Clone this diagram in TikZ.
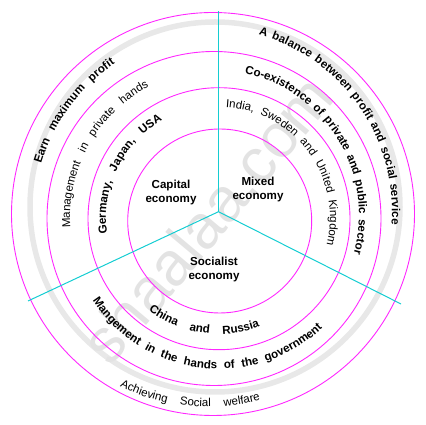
\documentclass[tikz,border=0pt]{standalone}
\usepackage{fontspec}
\setmainfont{Liberation Sans}
\usetikzlibrary{decorations.text}
\definecolor{ringcol}{RGB}{255,40,255}
\definecolor{spokecol}{RGB}{20,205,210}
\newcommand{\bfnt}{\bfseries\fontsize{11.6}{14}\selectfont}
\newcommand{\rgfnt}{\fontsize{11.5}{14}\selectfont}
\tikzset{
  circ/.style={draw=ringcol, line width=0.9pt},
  spokeline/.style={draw=spokecol, line width=1pt},
  lbl/.style={font=\bfnt, align=center, inner sep=0pt},
  arctext/.style={decorate, decoration={text along path, text align=fit to path stretching spaces, text={#1}}},
}
\begin{document}
\begin{tikzpicture}[x=1pt,y=1pt]
\useasboundingbox (0,0) rectangle (426,425);
% watermark
\draw[gray!18, line width=5.5pt] (215,218) circle[radius=185];
\node[rotate=50, text=gray!22, font=\fontsize{62}{62}\selectfont] (wm) at (207,206) {shaalaa.com};
% circles
\coordinate (c4) at (213,211);
\coordinate (c3) at (214,206.5);
\coordinate (c2) at (219,206.3);
\coordinate (c1) at (219.7,204);
\draw[circ] (c4) circle[radius=201.5];
\draw[circ] (c3) circle[radius=167];
\draw[circ] (c2) circle[radius=131];
\draw[circ] (c1) circle[radius=92];
% spokes
\coordinate (hub) at (218.5,213.3);
\coordinate (sTop) at (218.5,414.3);
\coordinate (sLeft) at (28,124);
\coordinate (sRight) at (401,121);
\draw[spokeline] (hub) -- (sTop);
\draw[spokeline] (hub) -- (sLeft);
\draw[spokeline] (hub) -- (sRight);
% centre labels
\node[lbl] (cap) at (171,232) {Capital\\economy};
\node[lbl] (mix) at (258,235) {Mixed\\economy};
\node[lbl] (soc) at (214,155) {Socialist\\economy};
% text centres
\coordinate (tL) at (219,207);
\coordinate (tA) at (208,213.5);
\coordinate (tC) at (214,210);
\coordinate (tB) at (208,214);
% left side
\path[arctext={|\bfnt|Germany, Japan, USA}] (tL) ++(188.1:113) arc[start angle=188.1, end angle=120, radius=113];
\path[arctext={|\rgfnt|Management in private hands}] (tL) ++(183.8:149) arc[start angle=183.8, end angle=118.1, radius=149];
\path[arctext={|\bfnt|Earn maximum profit}] (tL) ++(163:186) arc[start angle=163, end angle=124, radius=186];
% right side
\path[arctext={|\bfnt|A balance between profit and social service}] (tA) ++(74:184) arc[start angle=74, end angle=-4, radius=184];
\path[arctext={|\bfnt|Co-existence of private and public sector}] (tC) ++(77.8:145) arc[start angle=77.8, end angle=-15.5, radius=145];
\path[arctext={|\rgfnt|India, Sweden and United Kingdom}] (tL) ++(86.5:111) arc[start angle=86.5, end angle=-14.2, radius=111];
% bottom
\path[arctext={|\bfnt|China and Russia}] (tL) ++(232.6:116) arc[start angle=232.6, end angle=290.6, radius=116];
\path[arctext={|\bfnt|Mangement in the hands of the government}] (tL) ++(213.2:151) arc[start angle=213.2, end angle=313.3, radius=151];
\path[arctext={|\rgfnt|Achieving Social welfare}] (tB) ++(243.3:196) arc[start angle=243.3, end angle=285.5, radius=196];
\end{tikzpicture}
\end{document}
